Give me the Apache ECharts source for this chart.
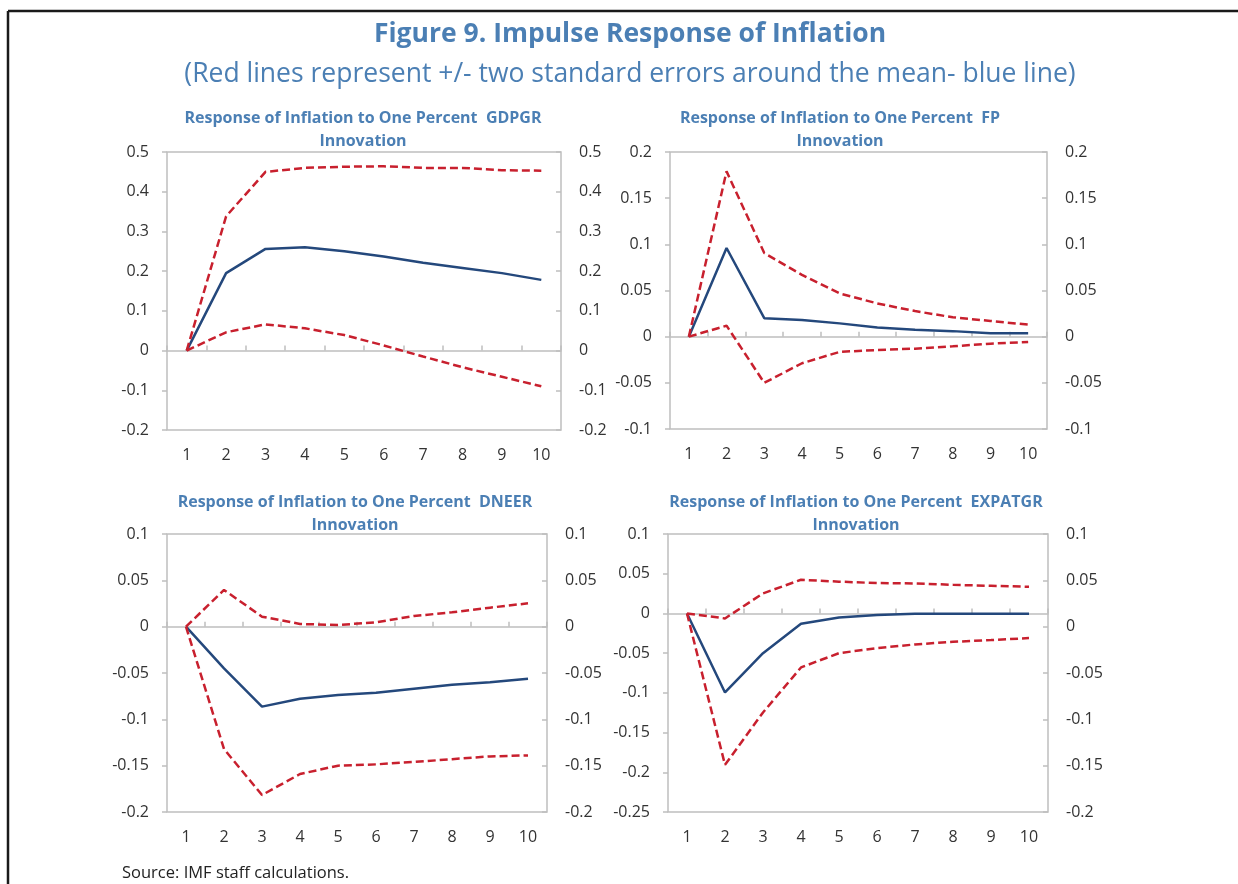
<!DOCTYPE html>
<html>
<head>
<meta charset="utf-8">
<title>Figure 9. Impulse Response of Inflation</title>
<script src="https://cdn.jsdelivr.net/npm/echarts@6/dist/echarts.min.js"></script>
<style>
  html, body { margin: 0; padding: 0; background: #fff; }
  #chart { width: 1238px; height: 884px; }
</style>
</head>
<body>
<div id="chart"></div>
<script>
const periods = ['1', '2', '3', '4', '5', '6', '7', '8', '9', '10']

// response to GDPGR shock
const gdpgrMean = [0, 0.195, 0.256, 0.26, 0.25, 0.237, 0.221, 0.208, 0.195, 0.178]
const gdpgrUpper = [0, 0.338, 0.45, 0.46, 0.463, 0.464, 0.46, 0.46, 0.454, 0.453]
const gdpgrLower = [0, 0.046, 0.066, 0.056, 0.039, 0.013, -0.015, -0.042, -0.066, -0.09]

// response to FP shock
const fpMean = [0, 0.096, 0.02, 0.018, 0.0144, 0.01, 0.0076, 0.006, 0.0036, 0.0036]
const fpUpper = [0, 0.179, 0.0906, 0.067, 0.0468, 0.036, 0.0277, 0.021, 0.017, 0.013]
const fpLower = [0, 0.0119, -0.05, -0.0288, -0.0165, -0.0144, -0.013, -0.0104, -0.0076, -0.0058]

// response to DNEER shock
const dneerMean = [0, -0.045, -0.0863, -0.0777, -0.0737, -0.0712, -0.0669, -0.0626, -0.06, -0.0561]
const dneerUpper = [0, 0.0396, 0.0108, 0.0029, 0.0018, 0.0047, 0.0115, 0.0155, 0.0205, 0.0252]
const dneerLower = [0, -0.132, -0.1817, -0.159, -0.15, -0.1486, -0.146, -0.143, -0.14, -0.1389]

// response to EXPATGR shock
const expatMean = [0, -0.0995, -0.05, -0.013, -0.005, -0.002, -0.0004, -0.0004, -0.0004, -0.0004]
const expatUpper = [0, -0.0063, 0.0252, 0.0424, 0.04, 0.0382, 0.0378, 0.036, 0.0348, 0.0336]
const expatLower = [0, -0.1906, -0.1247, -0.068, -0.05, -0.0437, -0.039, -0.0357, -0.0336, -0.031]

// axis ranges: [min, max, step]
const gdpgrTicks = [-0.2, 0.5, 0.1]
const fpTicks = [-0.1, 0.2, 0.05]
const dneerTicks = [-0.2, 0.1, 0.05]
const expatLeftTicks = [-0.25, 0.1, 0.05]
const expatRightTicks = [-0.2, 0.1, 0.05]

const titleBlue = '#4b7fb4'
const meanBlue = '#24487c'
const bandRed = '#c8202e'
const frameGray = '#bfbfbf'
const tickFont = 'Open Sans'
const headFont = 'Open Sans'

const panels = [
  {
    title: 'Response of Inflation to One Percent  GDPGR\nInnovation',
    mean: gdpgrMean, upper: gdpgrUpper, lower: gdpgrLower,
    leftTicks: gdpgrTicks, rightTicks: gdpgrTicks,
    box: { left: 167, top: 152, width: 394, height: 278 },
    titleX: 363, titleY: 130
  },
  {
    title: 'Response of Inflation to One Percent  FP\nInnovation',
    mean: fpMean, upper: fpUpper, lower: fpLower,
    leftTicks: fpTicks, rightTicks: fpTicks,
    box: { left: 670, top: 152, width: 377, height: 277 },
    titleX: 840, titleY: 130
  },
  {
    title: 'Response of Inflation to One Percent  DNEER\nInnovation',
    mean: dneerMean, upper: dneerUpper, lower: dneerLower,
    leftTicks: dneerTicks, rightTicks: dneerTicks,
    box: { left: 167, top: 534, width: 380, height: 278 },
    titleX: 355, titleY: 514
  },
  {
    title: 'Response of Inflation to One Percent  EXPATGR\nInnovation',
    mean: expatMean, upper: expatUpper, lower: expatLower,
    leftTicks: expatLeftTicks, rightTicks: expatRightTicks,
    box: { left: 668, top: 534, width: 380, height: 278 },
    titleX: 856, titleY: 514
  }
]

const grid = []
const xAxis = []
const yAxis = []
const series = []
const graphic = [
  // frame of the figure
  { type: 'line', shape: { x1: 8, y1: 11, x2: 1238, y2: 11 }, style: { stroke: '#1a1a1a', lineWidth: 2.5 } },
  { type: 'line', shape: { x1: 8, y1: 11, x2: 8, y2: 884 }, style: { stroke: '#1a1a1a', lineWidth: 2.5 } },
  {
    type: 'text', x: 630, y: 34,
    style: {
      text: 'Figure 9. Impulse Response of Inflation', fill: titleBlue,
      font: 'bold 26.5px ' + headFont, align: 'center', verticalAlign: 'middle'
    }
  },
  {
    type: 'text', x: 630, y: 74,
    style: {
      text: '(Red lines represent +/- two standard errors around the mean- blue line)', fill: titleBlue,
      font: '26.5px ' + headFont, align: 'center', verticalAlign: 'middle'
    }
  },
  {
    type: 'text', x: 122, y: 873,
    style: {
      text: 'Source: IMF staff calculations.', fill: '#222',
      font: '16.5px ' + tickFont, align: 'left', verticalAlign: 'middle'
    }
  }
]

const valueAxis = (i, ticks, side) => ({
  type: 'value',
  gridIndex: i,
  position: side,
  min: ticks[0],
  max: ticks[1],
  interval: ticks[2],
  axisLine: { show: false },
  axisTick: { show: true, inside: side === 'right', length: 5, lineStyle: { color: frameGray, width: 1.5 } },
  splitLine: { show: false },
  axisLabel: { margin: 18, fontSize: 16, color: '#333', fontFamily: tickFont }
})

const lineSeries = (i, data, color, type) => ({
  type: 'line',
  xAxisIndex: 2 * i,
  yAxisIndex: 2 * i,
  data: data,
  symbol: 'none',
  silent: true,
  lineStyle: { color: color, width: 2.5, type: type },
  itemStyle: { color: color }
})

panels.forEach((p, i) => {
  grid.push(Object.assign({ show: true, borderColor: frameGray, borderWidth: 1.5 }, p.box))
  // bottom axis: only the period labels
  xAxis.push({
    type: 'category', gridIndex: i, data: periods, position: 'bottom',
    axisLine: { show: false, onZero: false },
    axisTick: { show: false },
    axisLabel: { margin: 17, fontSize: 16, color: '#333', fontFamily: tickFont }
  })
  // zero line with the small ticks between periods
  xAxis.push({
    type: 'category', gridIndex: i, data: periods, position: 'bottom',
    axisLine: { show: true, onZero: true, onZeroAxisIndex: 2 * i, lineStyle: { color: frameGray, width: 1.5 } },
    axisTick: { show: true, inside: true, length: 5, lineStyle: { color: frameGray, width: 1.5 } },
    axisLabel: { show: false }
  })
  yAxis.push(valueAxis(i, p.leftTicks, 'left'))
  yAxis.push(valueAxis(i, p.rightTicks, 'right'))

  series.push(lineSeries(i, p.mean, meanBlue, 'solid'))
  series.push(lineSeries(i, p.upper, bandRed, [8, 4]))
  series.push(lineSeries(i, p.lower, bandRed, [8, 4]))

  graphic.push({
    type: 'text', x: p.titleX, y: p.titleY,
    style: {
      text: p.title, fill: titleBlue, font: 'bold 16px ' + headFont,
      lineHeight: 23, align: 'center', verticalAlign: 'middle'
    }
  })
})

const option = {
  animation: false,
  backgroundColor: '#fff',
  grid: grid,
  xAxis: xAxis,
  yAxis: yAxis,
  series: series,
  graphic: graphic
}

const myChart = echarts.init(document.getElementById('chart'))
myChart.setOption(option)
</script>
</body>
</html>
